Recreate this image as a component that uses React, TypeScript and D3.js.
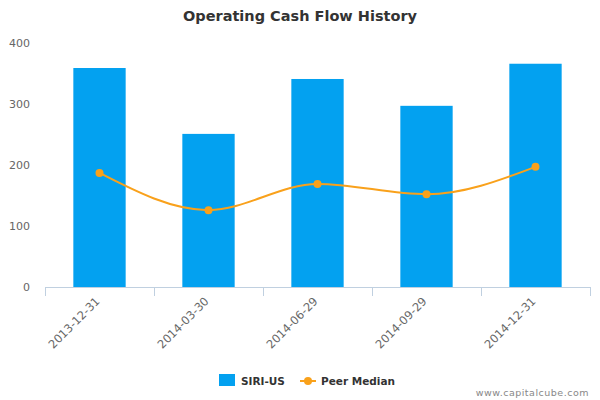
import React from "react";
import * as d3 from "d3";

const categories = ["2013-12-31", "2014-03-30", "2014-06-29", "2014-09-29", "2014-12-31"];
const companyValues = [359, 251, 341, 297, 366];
const peerMedian = [187, 126, 169, 152, 197];
const yTicks = [0, 100, 200, 300, 400];
const companyName = "SIRI-US";
const peerName = "Peer Median";
const title = "Operating Cash Flow History";
const credit = "www.capitalcube.com";

const W = 600;
const H = 400;
const M = { left: 45, right: 10, top: 43, bottom: 113 };
const font = "'DejaVu Sans', Verdana, sans-serif";
const barColor = "#03a1f0";
const lineColor = "#f9a11b";

export default function App() {
  const x = d3.scaleBand<string>().domain(categories).range([M.left, W - M.right]).paddingInner(0).paddingOuter(0);
  const y = d3.scaleLinear().domain([0, 400]).range([H - M.bottom, M.top]);
  const bw = x.bandwidth() * 0.48;
  const cx = (c: string) => (x(c) as number) + x.bandwidth() / 2;
  const line = d3
    .line<number>()
    .x((_, i) => cx(categories[i]))
    .y((d) => y(d))
    .curve(d3.curveMonotoneX);
  const tickXs = [...categories.map((c) => x(c) as number), W - M.right];

  return (
    <svg width={W} height={H} style={{ position: "absolute", left: 0, top: 0, fontFamily: font }}>
      <rect width={W} height={H} fill="#fff" />
      <text x={W / 2} y={21} textAnchor="middle" fontSize={14.5} fontWeight="bold" fill="#333">
        {title}
      </text>
      {yTicks.map((t) => (
        <text key={t} x={30} y={y(t) + 4} textAnchor="end" fontSize={11} fill="#666">
          {t}
        </text>
      ))}
      {categories.map((c, i) => (
        <rect key={c} x={cx(c) - bw / 2} y={y(companyValues[i])} width={bw} height={y(0) - y(companyValues[i])} fill={barColor} />
      ))}
      <line x1={M.left} x2={W - M.right} y1={y(0) + 0.5} y2={y(0) + 0.5} stroke="#c0d0e0" />
      {tickXs.map((t, i) => (
        <line key={i} x1={t + 0.5} x2={t + 0.5} y1={y(0)} y2={y(0) + 9} stroke="#c0d0e0" />
      ))}
      {categories.map((c) => (
        <text
          key={c}
          transform={`translate(${cx(c) + 1},${y(0) + 15}) rotate(-45)`}
          textAnchor="end"
          fontSize={11.5}
          fill="#666"
        >
          {c}
        </text>
      ))}
      <path d={line(peerMedian) || ""} fill="none" stroke={lineColor} strokeWidth={2} />
      {peerMedian.map((v, i) => (
        <circle key={i} cx={cx(categories[i])} cy={y(v)} r={4} fill={lineColor} />
      ))}
      <rect x={219} y={374} width={16} height={12} fill={barColor} />
      <text x={241} y={385} fontSize={10.5} fontWeight="bold" fill="#333">
        {companyName}
      </text>
      <line x1={300} x2={316} y1={381} y2={381} stroke={lineColor} strokeWidth={2} />
      <circle cx={308} cy={381} r={4} fill={lineColor} />
      <text x={321} y={385} fontSize={10.5} fontWeight="bold" fill="#333">
        {peerName}
      </text>
      <text x={589} y={396} textAnchor="end" fontSize={9.5} fill="#888" letterSpacing={0.5}>
        {credit}
      </text>
    </svg>
  );
}
